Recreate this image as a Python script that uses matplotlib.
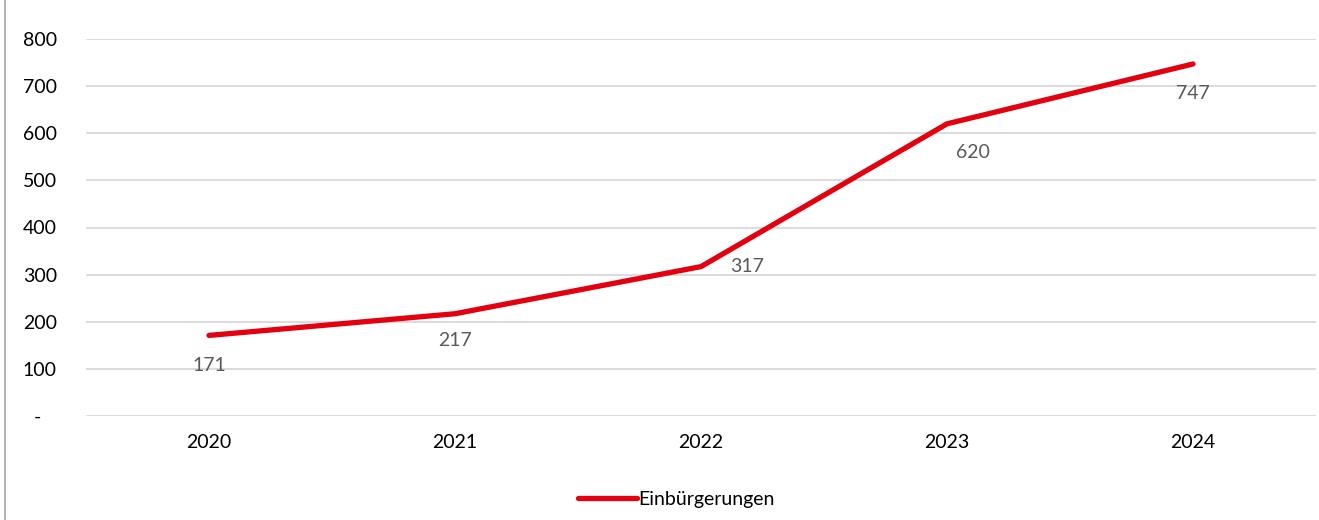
import matplotlib.pyplot as plt
from matplotlib.lines import Line2D

plt.rcParams['font.family'] = ['Lato', 'DejaVu Sans']

# Daten
jahre = ['2020', '2021', '2022', '2023', '2024']
einbuergerungen = [171, 217, 317, 620, 747]
y_ticks = [0, 100, 200, 300, 400, 500, 600, 700, 800]
y_labels = ['-   ', '100', '200', '300', '400', '500', '600', '700', '800']
# Offsets der Datenbeschriftungen (Punkte)
label_offsets = [(0, -22), (0, -19), (33, 0), (19, -21), (0, -21)]

ROT = '#E3000F'

fig = plt.figure(figsize=(13.19, 5.2), dpi=100)
ax = fig.add_axes([0.0652, 0.2, 0.9325, 0.725])

x = list(range(len(jahre)))
ax.plot(x, einbuergerungen, color=ROT, linewidth=3.8, solid_capstyle='round',
        solid_joinstyle='round', zorder=3)

for xi, wert, off in zip(x, einbuergerungen, label_offsets):
    ax.annotate(str(wert), (xi, wert), xytext=off, textcoords='offset points',
                ha='center', va='center', fontsize=14, color='#595959')

ax.set_xlim(-0.5, len(jahre) - 0.5)
ax.set_ylim(0, 800)
ax.set_xticks(x)
ax.set_xticklabels(jahre, fontsize=14)
ax.set_yticks(y_ticks)
ax.set_yticklabels(y_labels, fontsize=14)
ax.tick_params(axis='y', length=0, pad=21)
ax.tick_params(axis='x', length=0, pad=13)
ax.grid(axis='y', color='#D9D9D9', linewidth=1.3)
ax.set_axisbelow(True)
for s in ax.spines.values():
    s.set_visible(False)

handle = Line2D([0], [0], color=ROT, linewidth=3.8, solid_capstyle='round')
fig.legend([handle], ['Einbürgerungen'], loc='center', bbox_to_anchor=(0.513, 0.04),
           frameon=False, fontsize=14, handlelength=3.0, handletextpad=0.1)

# Rahmenlinie links
fig.add_artist(Line2D([0.004, 0.004], [0, 1], color='#A6A6A6', linewidth=1.2,
                      transform=fig.transFigure))

fig.savefig('out.png', dpi=100)
